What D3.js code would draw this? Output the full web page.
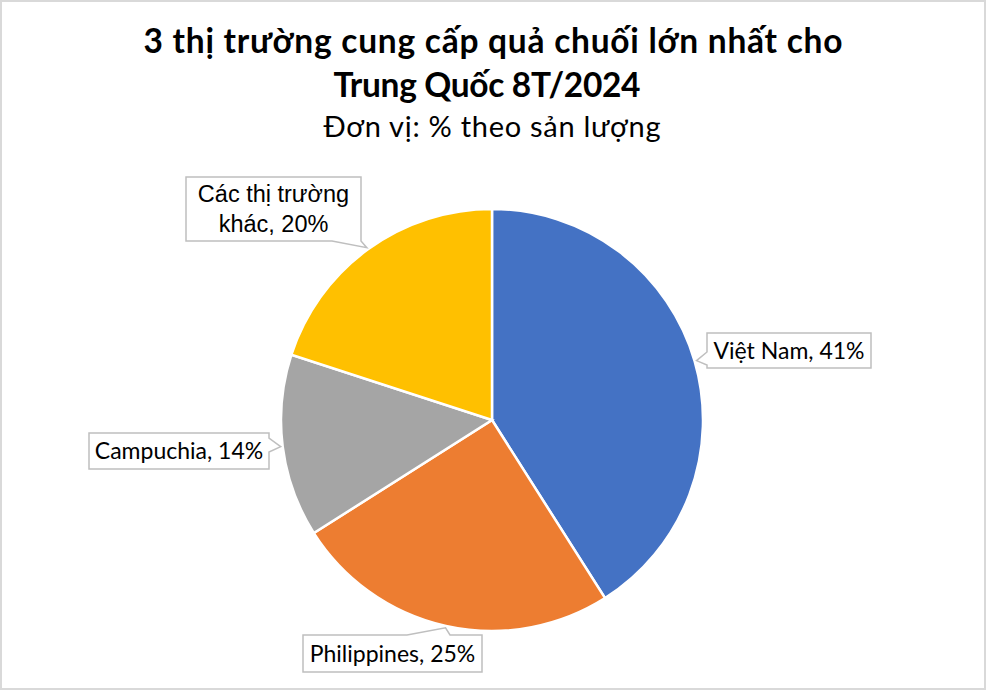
<!DOCTYPE html>
<html>
<head>
<meta charset="utf-8">
<script src="https://cdn.jsdelivr.net/npm/d3@7"></script>
<style>
  html, body { margin: 0; padding: 0; background: #fff; }
  #chart svg { display: block; }
</style>
</head>
<body>
<div id="chart"></div>
<script>
// data
const categories = ['Việt Nam', 'Philippines', 'Campuchia', 'Các thị trường khác'];
const shares = [41, 25, 14, 20];
const colors = ['#4472C4', '#ED7D31', '#A5A5A5', '#FFC000'];
const titleLines = ['3 thị trường cung cấp quả chuối lớn nhất cho', 'Trung Quốc 8T/2024'];
const subtitle = 'Đơn vị: % theo sản lượng';

// layout
const fullWidth = 986;
const fullHeight = 690;
const cx = 492, cy = 420, radius = 211;
const CAL = 'Lato, Carlito, Calibri, sans-serif';

// callout boxes (x, y, w, h, side the pointer leaves from, pointer base on that side)
const callouts = [
  { x: 707, y: 333, w: 164, h: 35, side: 'left', base: [352, 365], font: CAL, size: 23 },
  { x: 303, y: 635, w: 179, h: 37, side: 'top', base: [407, 450], font: CAL, size: 23 },
  { x: 89, y: 433, w: 180, h: 36, side: 'right', base: [438, 452], font: CAL, size: 23 },
  { x: 186, y: 177, w: 175, h: 64, side: 'bottom', base: [332, 361], font: '"Liberation Sans", Arial, sans-serif', size: 23.5 }
];

const svg = d3.select('#chart').append('svg')
  .attr('width', fullWidth)
  .attr('height', fullHeight);

svg.append('rect')
  .attr('x', 1).attr('y', 1)
  .attr('width', fullWidth - 2).attr('height', fullHeight - 2)
  .attr('fill', '#fff')
  .attr('stroke', '#d9d9d9')
  .attr('stroke-width', 2);

// titles
svg.append('text')
  .attr('x', 493).attr('y', 53)
  .attr('text-anchor', 'middle')
  .attr('textLength', 699)
  .style('font-family', CAL)
  .style('font-weight', 'bold')
  .style('font-size', '33.5px')
  .text(titleLines[0]);

svg.append('text')
  .attr('x', 487).attr('y', 97)
  .attr('text-anchor', 'middle')
  .attr('textLength', 307)
  .style('font-family', CAL)
  .style('font-weight', 'bold')
  .style('font-size', '33.5px')
  .text(titleLines[1]);

svg.append('text')
  .attr('x', 492).attr('y', 137)
  .attr('text-anchor', 'middle')
  .attr('textLength', 337)
  .style('font-family', CAL)
  .style('font-size', '29px')
  .text(subtitle);

// pie
const pie = d3.pie().sort(null).value(d => d.value);
const arc = d3.arc().innerRadius(0).outerRadius(radius);

const data = categories.map((c, i) => ({ name: c, value: shares[i], color: colors[i] }));
const arcs = pie(data);

const g = svg.append('g').attr('transform', `translate(${cx},${cy})`);

g.selectAll('path.slice')
  .data(arcs)
  .join('path')
  .attr('class', 'slice')
  .attr('d', arc)
  .attr('fill', d => d.data.color)
  .attr('stroke', '#fff')
  .attr('stroke-width', 2.5);

// callout shape: rect with a wedge pointing to the tip
function calloutPath(b, tip) {
  const x0 = b.x, y0 = b.y, x1 = b.x + b.w, y1 = b.y + b.h;
  const [a, c] = b.base;
  const p = [[x0, y0]];
  if (b.side === 'top') p.push([a, y0], tip, [c, y0]);
  p.push([x1, y0]);
  if (b.side === 'right') p.push([x1, a], tip, [x1, c]);
  p.push([x1, y1]);
  if (b.side === 'bottom') p.push([c, y1], tip, [a, y1]);
  p.push([x0, y1]);
  if (b.side === 'left') p.push([x0, c], tip, [x0, a]);
  return 'M' + p.map(q => q.join(',')).join('L') + 'Z';
}

function labelLines(d) {
  const txt = `${d.data.name}, ${d.data.value}%`;
  if (txt.length > 20) {
    const words = d.data.name.split(' ');
    return [words.slice(0, 3).join(' '), `${words.slice(3).join(' ')}, ${d.data.value}%`];
  }
  return [txt];
}

arcs.forEach((d, i) => {
  const b = callouts[i];
  const mid = (d.startAngle + d.endAngle) / 2;
  const tip = [cx + (radius + 2) * Math.sin(mid), cy - (radius + 2) * Math.cos(mid)];

  svg.append('path')
    .attr('d', calloutPath(b, tip))
    .attr('fill', '#fff')
    .attr('stroke', '#bfbfbf')
    .attr('stroke-width', 1.5);

  const lines = labelLines(d);
  const lh = 30;
  const startY = b.y + b.h / 2 - (lines.length - 1) * lh / 2 + b.size * 0.36;
  const t = svg.append('text')
    .attr('text-anchor', 'middle')
    .style('font-family', b.font)
    .style('font-size', b.size + 'px')
    .attr('fill', '#000');
  lines.forEach((ln, k) => {
    t.append('tspan')
      .attr('x', b.x + b.w / 2)
      .attr('y', startY + k * lh)
      .text(ln);
  });
});
</script>
</body>
</html>
